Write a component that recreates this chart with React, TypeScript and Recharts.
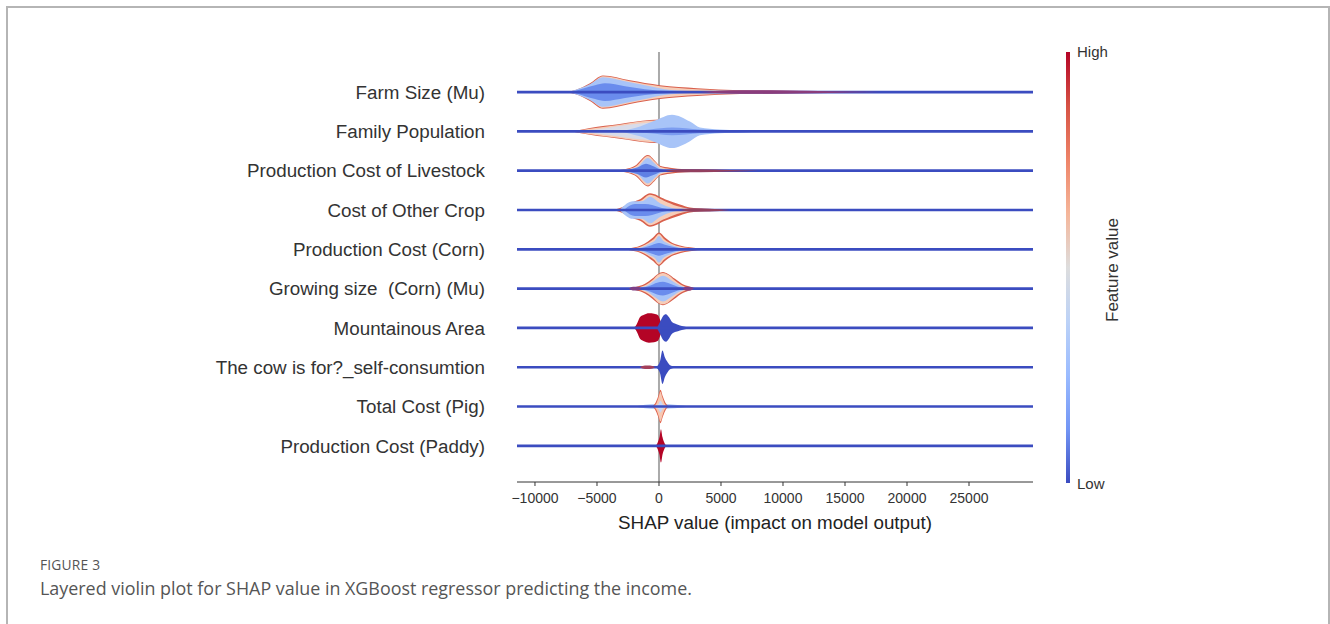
import { ComposedChart, Area, XAxis, YAxis, CartesianGrid } from "recharts";

// ── Data ──────────────────────────────────────────────────────────────────────

const features = [
  "Farm Size (Mu)",
  "Family Population",
  "Production Cost of Livestock",
  "Cost of Other Crop",
  "Production Cost (Corn)",
  "Growing size  (Corn) (Mu)",
  "Mountainous Area",
  "The cow is for?_self-consumtion",
  "Total Cost (Pig)",
  "Production Cost (Paddy)",
];

const xTicks = [-10000, -5000, 0, 5000, 10000, 15000, 20000, 25000];
const xMin = -11450;
const xMax = 30160;

// each violin = layers of [shap value, density], outer layer first
type Pt = [number, number];

const farmSize: Pt[][] = [
  [[-7800, 0], [-6780, 2], [-5570, 9], [-4520, 17], [-2340, 12], [80, 7], [3070, 4], [6530, 2], [11370, 1.2], [19440, 0.5], [22660, 0]],
  [[-7500, 0], [-6600, 1.6], [-5480, 8.2], [-4520, 16], [-2340, 11], [80, 6], [3070, 3], [6530, 1.2], [11370, 0.5], [15400, 0]],
  [[-7180, 0.5], [-5570, 8], [-4520, 15], [-2740, 11], [-1130, 7], [480, 3], [2500, 1], [4920, 0]],
  [[-6780, 1], [-5160, 7], [-4360, 9], [-2740, 6], [-1130, 3], [890, 1], [2500, 0]],
];
const familyPopulation: Pt[][] = [
  [[-7020, 0], [-5570, 3.5], [-3150, 7.5], [-730, 11.5], [80, 12], [1050, 12], [2500, 5], [3300, 2], [4900, 0]],
  [[-6900, 0], [-5570, 2.8], [-3150, 6.8], [-730, 10.8], [480, 11], [1690, 6], [3300, 1], [4100, 0]],
  [[-5970, 0.5], [-3950, 4], [-1530, 8], [-320, 9], [890, 5], [2500, 1], [3300, 0]],
  [[-3150, 0], [-1530, 5], [-320, 11], [1050, 17], [2500, 10], [3300, 4], [4900, 2], [6530, 1.2], [9760, 0.5], [13000, 0]],
  [[-2340, 0], [-730, 2], [1050, 4], [3300, 2], [6530, 1], [9760, 0]],
];
const livestock: Pt[][] = [
  [[-3790, 0], [-2740, 1.5], [-1940, 5], [-890, 16], [-320, 10], [80, 5], [890, 3], [2100, 1.5], [4920, 0.6], [8150, 0]],
  [[-3650, 0], [-2660, 1.1], [-1880, 4.3], [-890, 15], [-320, 9], [80, 4], [890, 1.8], [2100, 0.6], [3300, 0]],
  [[-3150, 0.5], [-1770, 3.5], [-890, 13], [-320, 7], [80, 2.5], [1050, 0.5], [2500, 0]],
  [[-2740, 0.5], [-1690, 3.5], [-1050, 7], [-560, 5], [80, 1.5], [890, 0]],
];
const otherCrop: Pt[][] = [
  [[-3790, 0], [-3150, 2], [-2340, 7], [-1530, 11], [-730, 17], [480, 11], [1690, 5.5], [2500, 2.5], [3710, 1.2], [5730, 0.5], [8150, 0]],
  [[-3500, 0], [-2900, 1.6], [-2220, 6.3], [-1400, 10], [-730, 15.5], [400, 9.5], [1450, 4], [2340, 1.2], [3100, 0]],
  [[-3150, 0.5], [-2100, 9], [-1370, 9], [-730, 13.5], [80, 7], [1050, 2], [2100, 0]],
  [[-2740, 1], [-1940, 6], [-1130, 6], [-560, 5], [240, 2], [1290, 0]],
];
const costCorn: Pt[][] = [
  [[-3150, 0], [-2340, 1], [-1530, 3.5], [-890, 8], [-480, 12], [0, 17], [480, 12], [890, 8], [1690, 4], [2500, 2], [3710, 0.5], [4520, 0]],
  [[-2900, 0], [-2180, 0.8], [-1450, 2.8], [-810, 7], [-400, 10.5], [0, 15.5], [400, 10.5], [810, 7], [1610, 3], [2500, 1], [3310, 0]],
  [[-2340, 0.5], [-1370, 2.2], [-730, 6], [-320, 9], [0, 13.5], [320, 9], [730, 6], [1530, 2.2], [2500, 0.5], [3150, 0]],
  [[-1940, 0.5], [-1130, 2], [-560, 4.5], [0, 6.5], [560, 4.5], [1290, 2], [2340, 0]],
];
const growingCorn: Pt[][] = [
  [[-2740, 0], [-1940, 1.5], [-1130, 5], [-560, 10], [-80, 15], [320, 17], [730, 15], [1290, 10], [1850, 5], [2500, 2], [3310, 0]],
  [[-2500, 0], [-1770, 1], [-1050, 4], [-480, 9], [-80, 14], [320, 16], [730, 14], [1210, 9], [1770, 4], [2340, 1], [2900, 0]],
  [[-1940, 0.5], [-970, 3], [-400, 8], [320, 13], [1050, 8], [1690, 3], [2500, 0.5]],
  [[-1530, 0.5], [-730, 3], [-160, 6], [320, 7], [890, 5], [1530, 2], [2500, 0]],
];
const mountainous: Pt[][] = [
  [[-2340, 0], [-1940, 1.2], [-1750, 5], [-1530, 11], [-1210, 13.5], [-810, 15], [-400, 14.5], [-80, 13], [160, 6], [400, 0]],
  [[-160, 0], [80, 6], [320, 12], [560, 14], [800, 11], [1050, 6], [1370, 4], [1690, 2.5], [2180, 1], [2660, 0]],
];
const cowSelf: Pt[][] = [
  [[-320, 0], [-80, 2], [80, 6], [280, 17], [480, 10], [650, 6], [890, 2], [1290, 0.5], [1690, 0]],
];
const pigCost: Pt[][] = [
  [[-1940, 0], [-1130, 1.8], [-320, 2.5], [80, 3], [480, 2.5], [1290, 1.8], [2500, 0]],
  [[-560, 0], [-320, 3], [-80, 10], [120, 17], [320, 10], [560, 3], [810, 0]],
  [[-480, 0], [-240, 2.5], [-40, 9], [120, 15], [280, 9], [480, 2.5], [730, 0]],
  [[-320, 0], [-80, 2], [120, 6], [320, 2], [560, 0]],
];
const paddyCost: Pt[][] = [
  [[-320, 0], [-120, 3], [40, 9], [160, 17], [280, 9], [440, 3], [650, 0]],
];

// thin high-value tails drawn over the row line
const farmSizeTail: Pt[] = [[3300, 0], [5700, 1.5], [9000, 1.8], [12000, 1.3], [15400, 0.5], [18000, 0]];
const livestockTail: Pt[] = [[500, 0], [1700, 1.6], [3300, 1.5], [5700, 0.8], [8000, 0]];
const otherCropTail: Pt[] = [[1700, 0], [2700, 1.5], [4100, 1.4], [5700, 0]];
const growingTail: Pt[] = [[-2420, 0], [-2100, 2], [-1690, 2], [-1370, 0], [1850, 0], [2180, 2], [2500, 2], [2820, 0]];
const cowTail: Pt[] = [[-1530, 0], [-1130, 1.8], [-730, 1.8], [-320, 0]];

const violins = [farmSize, familyPopulation, livestock, otherCrop, costCorn, growingCorn, mountainous, cowSelf, pigCost, paddyCost];
const tails: (Pt[] | null)[] = [farmSizeTail, null, livestockTail, otherCropTail, null, growingTail, null, cowTail, null, null];

// ── Styles ────────────────────────────────────────────────────────────────────

const RED_EDGE = "#d9604c";
const PEACH = "#f6cdb9";
const LIGHT_BLUE = "#a8c4f8";
const MID_BLUE = "#6a8ced";
const LOW = "#3b4cc0";
const HIGH = "#b40426";

const layerColors: string[][] = [
  [RED_EDGE, PEACH, LIGHT_BLUE, MID_BLUE],
  [RED_EDGE, PEACH, "#d8dcea", LIGHT_BLUE, "#7b9cf0"],
  [RED_EDGE, PEACH, LIGHT_BLUE, "#5f80e4"],
  [RED_EDGE, PEACH, LIGHT_BLUE, MID_BLUE],
  [RED_EDGE, PEACH, LIGHT_BLUE, MID_BLUE],
  [RED_EDGE, PEACH, LIGHT_BLUE, MID_BLUE],
  [HIGH, LOW],
  [LOW],
  ["#b3cbf7", "#e0654f", "#f7c8b2", "#c9d8f6"],
  [HIGH],
];
const tailColors = ["#8a3c7c", "", "#93405f", "#93405f", "", "#7e3f86", "", "#a4405a", "", ""];

const DENS = 1 / 40; // density -> row units
const LINE_HALF = 0.034;
const font = "'Liberation Sans', Arial, sans-serif";

function toData(pts: Pt[], row: number) {
  return pts.map(([x, w]) => ({ x, r: [row - w * DENS, row + w * DENS] }));
}

function band(key: string, data: any[], fill: string, type: "monotone" | "linear" = "monotone") {
  return (
    <Area
      key={key}
      data={data}
      dataKey="r"
      type={type}
      fill={fill}
      fillOpacity={1}
      stroke="none"
      dot={false}
      activeDot={false}
      isAnimationActive={false}
    />
  );
}

// zero line, placed through the grid so it stays behind the violins
function zeroLine({ xAxis, offset }: any) {
  if (xAxis && typeof xAxis.scale === "function") return [xAxis.scale(0)];
  return [offset.left + ((0 - xMin) / (xMax - xMin)) * offset.width];
}

export default function App() {
  const series: any[] = [];
  violins.forEach((layers, row) => {
    layers.forEach((pts, j) => series.push(band(`v${row}-${j}`, toData(pts, row), layerColors[row][j])));
  });
  features.forEach((_, row) => {
    series.push(
      band(
        `line${row}`,
        [
          { x: xMin, r: [row - LINE_HALF, row + LINE_HALF] },
          { x: xMax, r: [row - LINE_HALF, row + LINE_HALF] },
        ],
        LOW,
        "linear"
      )
    );
  });
  tails.forEach((pts, row) => {
    if (pts) series.push(band(`t${row}`, toData(pts, row), tailColors[row]));
  });

  return (
    <div style={{ position: "absolute", left: 0, top: 0, width: 1330, height: 624, overflow: "hidden", background: "#fff", fontFamily: font }}>
      <div style={{ position: "absolute", left: 6, top: 6, width: 1320, height: 700, border: "2px solid #b5b5b5" }} />

      <div style={{ position: "absolute", left: 0, top: 0 }}>
        <ComposedChart width={1330} height={624} margin={{ top: 52, right: 297, bottom: 82, left: 217 }}>
          <CartesianGrid horizontal={false} stroke="#aaa" strokeWidth={2} verticalCoordinatesGenerator={zeroLine} />
          <XAxis
            type="number"
            dataKey="x"
            domain={[xMin, xMax]}
            allowDataOverflow
            ticks={xTicks}
            height={60}
            tickSize={4}
            tickMargin={7}
            axisLine={{ stroke: "#333" }}
            tickLine={{ stroke: "#333" }}
            tick={{ fill: "#333", fontSize: 14, fontFamily: font }}
            tickFormatter={(v: number) => (v < 0 ? `\u2212${Math.abs(v)}` : `${v}`)}
            label={{ value: "SHAP value (impact on model output)", position: "insideBottom", offset: 13, fill: "#222", fontSize: 18.8, fontFamily: font }}
          />
          <YAxis
            type="number"
            domain={[-1.02, 9.92]}
            allowDataOverflow
            reversed
            ticks={features.map((_, i) => i)}
            interval={0}
            width={300}
            axisLine={false}
            tickLine={false}
            tickSize={6}
            tickMargin={26}
            tick={{ fill: "#333", fontSize: 18.8, fontFamily: font }}
            tickFormatter={(i: number) => (features[i] ?? "").replace(/  /g, " \u00a0")}
          />
          {series}
        </ComposedChart>
      </div>

      {/* colour bar */}
      <div
        style={{
          position: "absolute",
          left: 1066,
          top: 52,
          width: 4,
          height: 431,
          background: "linear-gradient(to bottom, #b40426 0%, #d65244 12.5%, #ee8468 25%, #f5b69a 37.5%, #dddddd 50%, #bcd2f7 62.5%, #9abbff 75%, #7396f5 87.5%, #3b4cc0 100%)",
        }}
      />
      <div style={{ position: "absolute", left: 1077, top: 43, fontSize: 15, color: "#333" }}>High</div>
      <div style={{ position: "absolute", left: 1077, top: 475, fontSize: 15, color: "#333" }}>Low</div>
      <div
        style={{
          position: "absolute",
          left: 1113,
          top: 270,
          transform: "translate(-50%, -50%) rotate(-90deg)",
          fontSize: 17,
          color: "#333",
          whiteSpace: "nowrap",
        }}
      >
        Feature value
      </div>

      {/* caption */}
      <div style={{ position: "absolute", left: 40, top: 555, fontFamily: "'Open Sans', sans-serif", fontSize: 13.8, color: "#555", letterSpacing: 0.2 }}>
        FIGURE 3
      </div>
      <div style={{ position: "absolute", left: 40, top: 576, fontFamily: "'Open Sans', sans-serif", fontSize: 17.9, color: "#555" }}>
        Layered violin plot for SHAP value in XGBoost regressor predicting the income.
      </div>
    </div>
  );
}
